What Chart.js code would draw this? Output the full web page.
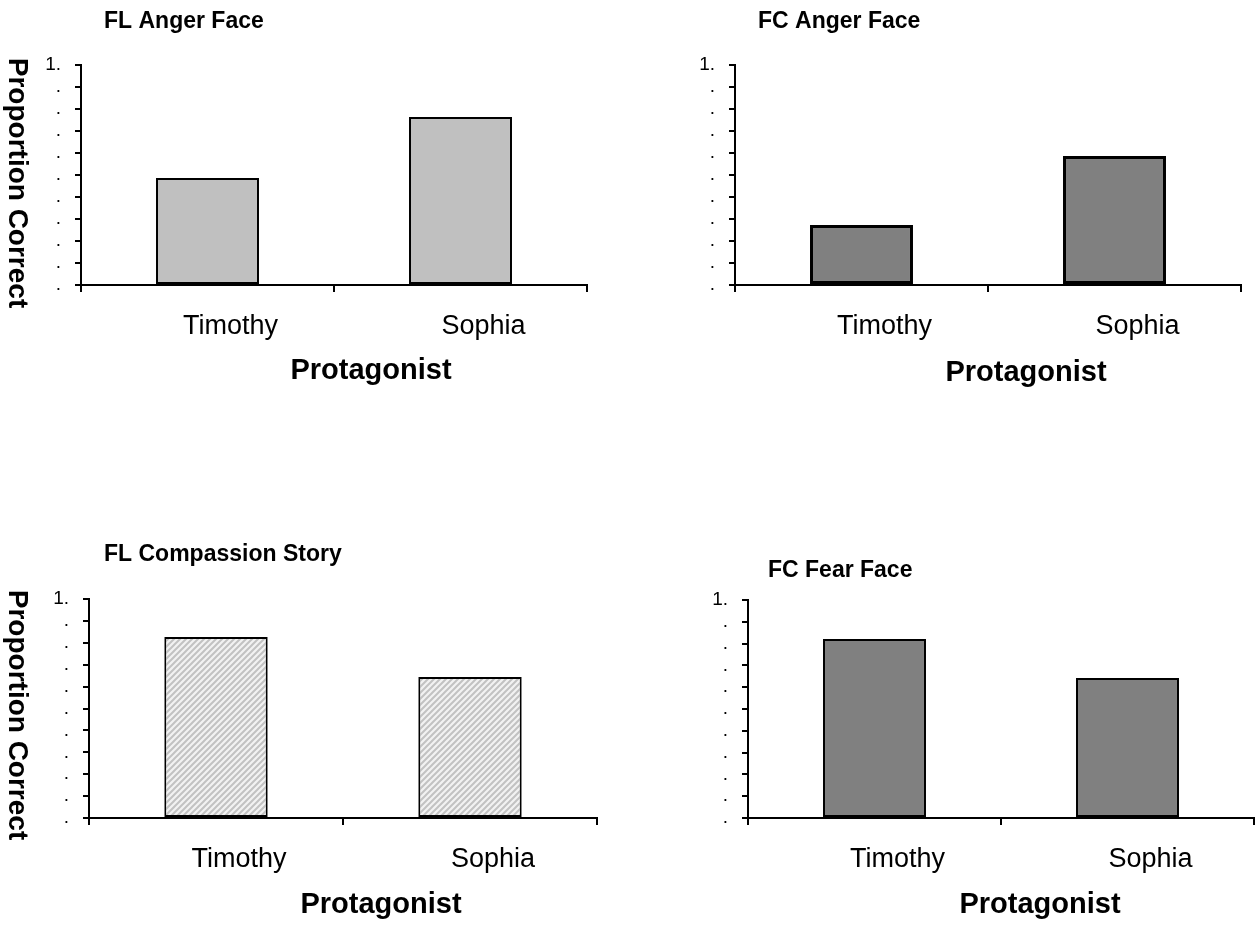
<!DOCTYPE html>
<html>
<head>
<meta charset="utf-8">
<script src="https://cdn.jsdelivr.net/npm/chart.js@4.4.1/dist/chart.umd.min.js"></script>
<style>
  html, body { margin: 0; padding: 0; background: #fff; }
  #page { position: relative; width: 1259px; height: 930px; overflow: hidden; }
  #page canvas { position: absolute; }
</style>
</head>
<body>
<div id="page">
  <canvas id="flAnger"></canvas>
  <canvas id="fcAnger"></canvas>
  <canvas id="flCompassion"></canvas>
  <canvas id="fcFear"></canvas>
</div>
<script>
// Four small bar panels: proportion correct per protagonist.

const categories = ['Timothy', 'Sophia'];
const flAngerFace = [0.486, 0.764];
const fcAngerFace = [0.273, 0.586];
const flCompassionStory = [0.826, 0.644];
const fcFearFace = [0.821, 0.642];
// y tick labels from 0 to 1 (the original shows truncated labels)
const yTickLabels = ['.', '.', '.', '.', '.', '.', '.', '.', '.', '.', '1.'];

const FONT = "'Liberation Sans', Arial, sans-serif";

// diagonal hatch used for the compassion story bars
function hatchPattern() {
    const c = document.createElement('canvas');
    c.width = 6; c.height = 6;
    const g = c.getContext('2d');
    g.fillStyle = '#f2f2f2';
    g.fillRect(0, 0, 6, 6);
    g.strokeStyle = '#c2c2c2';
    g.lineWidth = 2;
    g.beginPath();
    g.moveTo(-1, 7); g.lineTo(7, -1);
    g.moveTo(-4, 4); g.lineTo(4, -4);
    g.moveTo(2, 10); g.lineTo(10, 2);
    g.stroke();
    return g.createPattern(c, 'repeat');
}

// titles and axis titles, placed in page coordinates
const panelText = {
    id: 'panelText',
    afterDraw(chart, args, o) {
        const ctx = chart.ctx;
        ctx.save();
        ctx.fillStyle = '#000';
        ctx.textBaseline = 'middle';
        ctx.font = `bold ${o.titleSize}px ${FONT}`;
        ctx.textAlign = 'left';
        ctx.fillText(o.title, o.titleAt[0] - o.ox, o.titleAt[1] - o.oy);
        ctx.font = `bold 29px ${FONT}`;
        ctx.textAlign = 'center';
        ctx.fillText('Protagonist', o.xTitleAt[0] - o.ox, o.xTitleAt[1] - o.oy);
        if (o.yTitleAt) {
            ctx.font = `bold 28px ${FONT}`;
            ctx.translate(o.yTitleAt[0] - o.ox, o.yTitleAt[1] - o.oy);
            ctx.rotate(Math.PI / 2);
            ctx.fillText('Proportion Correct', 0, 0);
        }
        ctx.restore();
    }
};

const Y_W = 60, X_H = 60;

function createPanel(id, values, p) {
    const el = document.getElementById(id);
    el.width = p.box.w; el.height = p.box.h;
    el.style.left = p.box.x + 'px';
    el.style.top = p.box.y + 'px';
    const a = p.area;   // desired plot area, page coordinates
    const pad = {
        left: a.l - p.box.x - Y_W,
        top: a.t - p.box.y,
        right: p.box.x + p.box.w - a.r,
        bottom: p.box.y + p.box.h - a.b - X_H
    };

    return new Chart(el, {
        type: 'bar',
        data: {
            labels: categories,
            datasets: [{
                data: values,
                backgroundColor: p.fill,
                borderColor: '#000',
                borderWidth: p.border,
                borderSkipped: false,
                categoryPercentage: 1,
                barPercentage: 0.407
            }]
        },
        plugins: [panelText],
        options: {
            responsive: false,
            animation: false,
            layout: { padding: pad },
            plugins: {
                legend: { display: false },
                tooltip: { enabled: false },
                panelText: {
                    ox: p.box.x, oy: p.box.y,
                    title: p.title, titleSize: 23, titleAt: p.titleAt,
                    xTitleAt: p.xTitleAt, yTitleAt: p.yTitleAt
                }
            },
            scales: {
                x: {
                    offset: true,
                    afterFit: s => { s.height = X_H; },
                    grid: {
                        offset: true, drawOnChartArea: false, tickLength: 7,
                        color: '#000', lineWidth: 2
                    },
                    border: { color: '#000', width: 2 },
                    ticks: {
                        color: '#000', font: { family: FONT, size: 27 },
                        labelOffset: 23, padding: 18, maxRotation: 0
                    }
                },
                y: {
                    min: 0, max: 1,
                    afterFit: s => { s.width = Y_W; },
                    grid: {
                        drawOnChartArea: false, tickLength: 6,
                        color: '#000', lineWidth: 2
                    },
                    border: { color: '#000', width: 2 },
                    ticks: {
                        stepSize: 0.1, autoSkip: false, color: '#000', padding: 14,
                        font: { family: FONT, size: 19 },
                        callback: v => yTickLabels[Math.round(v * 10)]
                    }
                }
            }
        }
    });
}

createPanel('flAnger', flAngerFace, {
    title: 'FL Anger Face', fill: '#c0c0c0', border: 2,
    box: { x: 0, y: 0, w: 630, h: 465 },
    area: { l: 81, t: 65, r: 587, b: 285 },
    titleAt: [104, 22], xTitleAt: [371, 371], yTitleAt: [17, 183]
});
createPanel('fcAnger', fcAngerFace, {
    title: 'FC Anger Face', fill: '#808080', border: 3,
    box: { x: 630, y: 0, w: 629, h: 465 },
    area: { l: 735, t: 65, r: 1241, b: 285 },
    titleAt: [758, 22], xTitleAt: [1026, 373]
});
createPanel('flCompassion', flCompassionStory, {
    title: 'FL Compassion Story', fill: hatchPattern(), border: 2,
    box: { x: 0, y: 465, w: 630, h: 465 },
    area: { l: 89, t: 599, r: 597, b: 818 },
    titleAt: [104, 555], xTitleAt: [381, 905], yTitleAt: [17, 715]
});
createPanel('fcFear', fcFearFace, {
    title: 'FC Fear Face', fill: '#808080', border: 2,
    box: { x: 630, y: 465, w: 629, h: 465 },
    area: { l: 748, t: 600, r: 1254, b: 818 },
    titleAt: [768, 571], xTitleAt: [1040, 905]
});
</script>
</body>
</html>
